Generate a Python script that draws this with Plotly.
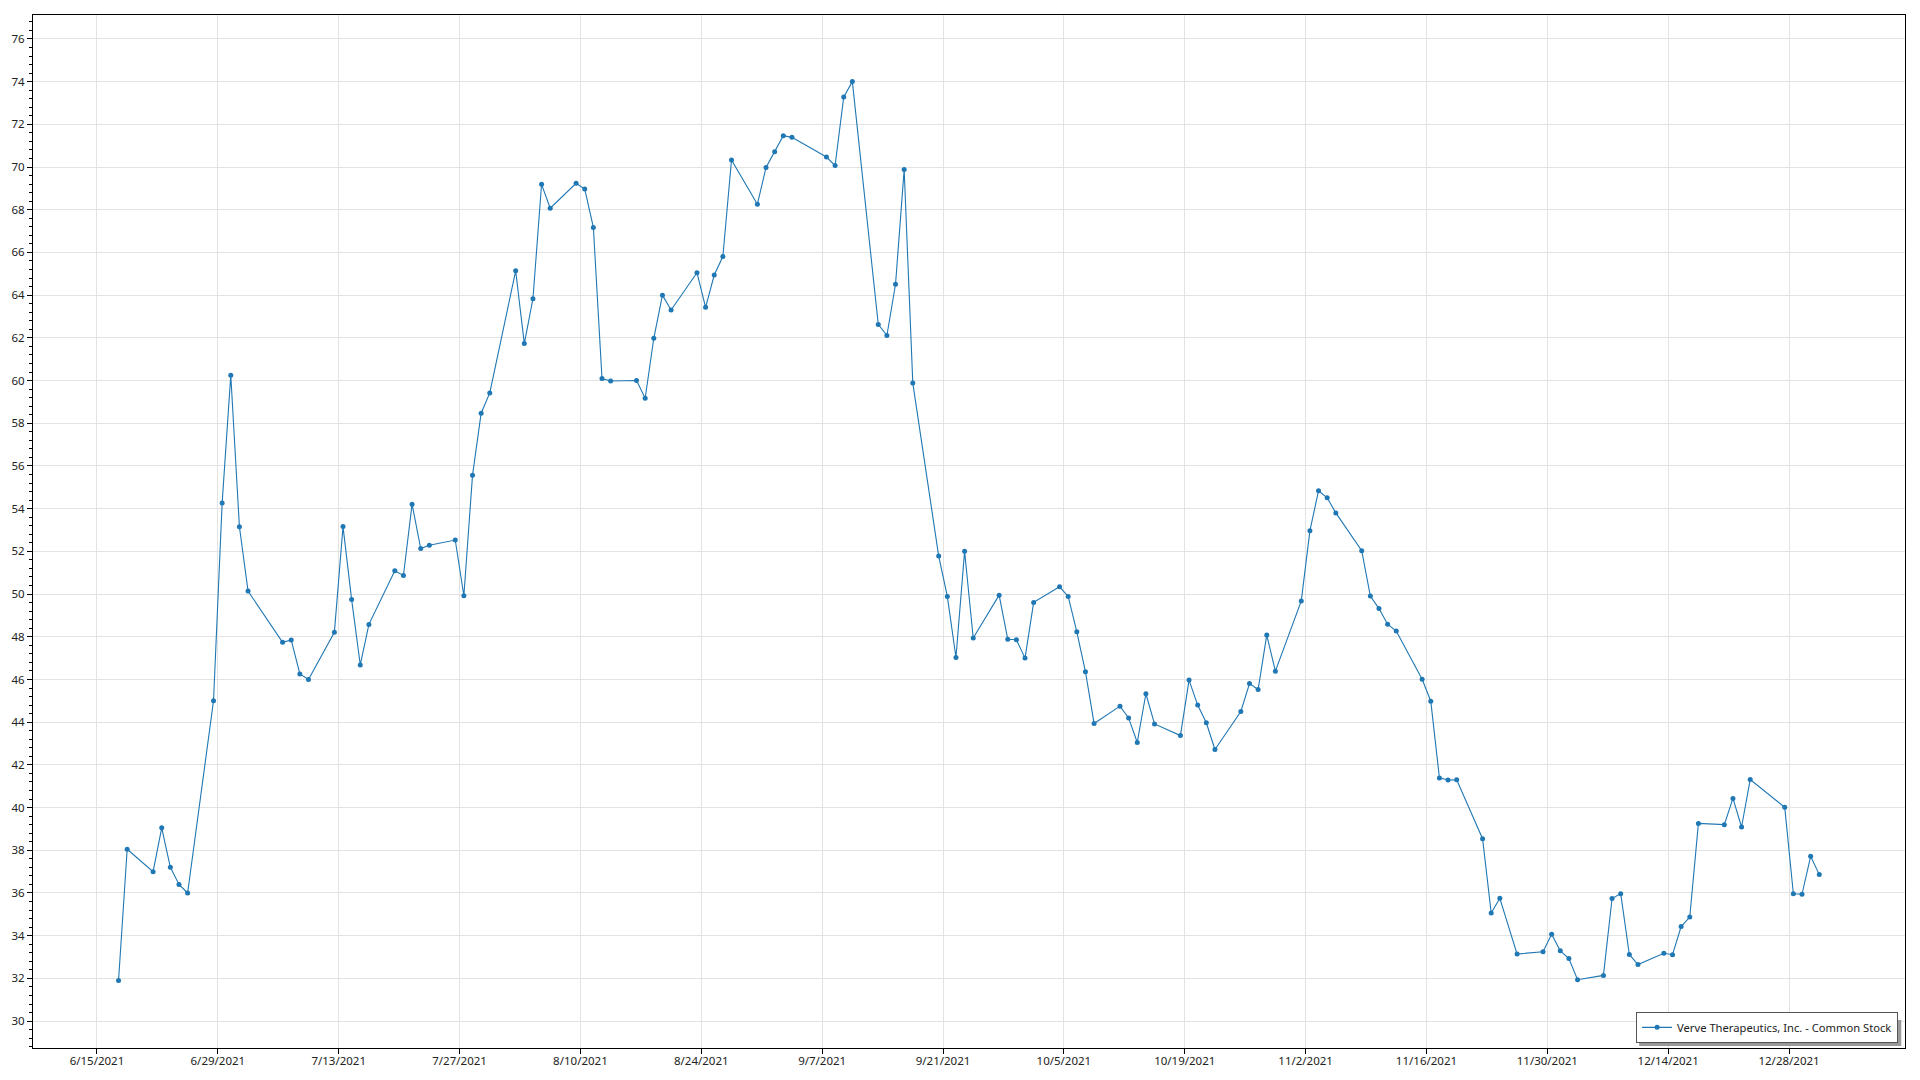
import plotly.graph_objects as go

# Trading days (closing prices) for Verve Therapeutics, Inc. - Common Stock
dates = [
    "2021-06-17", "2021-06-18", "2021-06-21", "2021-06-22", "2021-06-23", "2021-06-24", "2021-06-25",
    "2021-06-28", "2021-06-29", "2021-06-30",
    "2021-07-01", "2021-07-02", "2021-07-06", "2021-07-07", "2021-07-08", "2021-07-09",
    "2021-07-12", "2021-07-13", "2021-07-14", "2021-07-15", "2021-07-16",
    "2021-07-19", "2021-07-20", "2021-07-21", "2021-07-22", "2021-07-23",
    "2021-07-26", "2021-07-27", "2021-07-28", "2021-07-29", "2021-07-30",
    "2021-08-02", "2021-08-03", "2021-08-04", "2021-08-05", "2021-08-06",
    "2021-08-09", "2021-08-10", "2021-08-11", "2021-08-12", "2021-08-13",
    "2021-08-16", "2021-08-17", "2021-08-18", "2021-08-19", "2021-08-20",
    "2021-08-23", "2021-08-24", "2021-08-25", "2021-08-26", "2021-08-27",
    "2021-08-30", "2021-08-31",
    "2021-09-01", "2021-09-02", "2021-09-03", "2021-09-07", "2021-09-08", "2021-09-09", "2021-09-10",
    "2021-09-13", "2021-09-14", "2021-09-15", "2021-09-16", "2021-09-17",
    "2021-09-20", "2021-09-21", "2021-09-22", "2021-09-23", "2021-09-24",
    "2021-09-27", "2021-09-28", "2021-09-29", "2021-09-30",
    "2021-10-01", "2021-10-04", "2021-10-05", "2021-10-06", "2021-10-07", "2021-10-08",
    "2021-10-11", "2021-10-12", "2021-10-13", "2021-10-14", "2021-10-15",
    "2021-10-18", "2021-10-19", "2021-10-20", "2021-10-21", "2021-10-22",
    "2021-10-25", "2021-10-26", "2021-10-27", "2021-10-28", "2021-10-29",
    "2021-11-01", "2021-11-02", "2021-11-03", "2021-11-04", "2021-11-05",
    "2021-11-08", "2021-11-09", "2021-11-10", "2021-11-11", "2021-11-12",
    "2021-11-15", "2021-11-16", "2021-11-17", "2021-11-18", "2021-11-19",
    "2021-11-22", "2021-11-23", "2021-11-24", "2021-11-26",
    "2021-11-29", "2021-11-30",
    "2021-12-01", "2021-12-02", "2021-12-03", "2021-12-06", "2021-12-07", "2021-12-08", "2021-12-09",
    "2021-12-10", "2021-12-13", "2021-12-14", "2021-12-15", "2021-12-16", "2021-12-17",
    "2021-12-20", "2021-12-21", "2021-12-22", "2021-12-23",
    "2021-12-27", "2021-12-28", "2021-12-29", "2021-12-30", "2021-12-31",
]

prices = [
    31.90, 38.05, 37.00, 39.05, 37.20, 36.40, 36.00,
    45.00, 54.27, 60.25,
    53.15, 50.14, 47.74, 47.85, 46.26, 46.00,
    48.21, 53.16, 49.74, 46.68, 48.58,
    51.09, 50.87, 54.21, 52.13, 52.29,
    52.53, 49.92, 55.56, 58.47, 59.42,
    65.14, 61.73, 63.83, 69.19, 68.07,
    69.24, 68.97, 67.17, 60.09, 59.98,
    60.00, 59.17, 61.98, 64.00, 63.30,
    65.05, 63.43, 64.94, 65.81, 70.33,
    68.26, 69.98,
    70.71, 71.47, 71.39, 70.47, 70.07, 73.28, 74.00,
    62.63, 62.11, 64.51, 69.88, 59.88,
    51.78, 49.89, 47.03, 52.00, 47.94,
    49.95, 47.88, 47.86, 47.00,
    49.61, 50.34, 49.89, 48.23, 46.36, 43.94,
    44.75, 44.20, 43.05, 45.33, 43.92,
    43.37, 45.97, 44.80, 43.97, 42.72,
    44.50, 45.81, 45.53, 48.08, 46.39,
    49.68, 52.97, 54.84, 54.51, 53.80,
    52.03, 49.91, 49.32, 48.59, 48.27,
    46.01, 44.98, 41.39, 41.29, 41.30,
    38.54, 35.06, 35.75, 33.14,
    33.25, 34.07,
    33.29, 32.93, 31.94, 32.14, 35.74, 35.97, 33.12,
    32.65, 33.18, 33.11, 34.43, 34.87, 39.26,
    39.20, 40.43, 39.09, 41.31,
    40.01, 35.96, 35.94, 37.72, 36.86,
]

series_name = "Verve Therapeutics, Inc. - Common Stock"

x_tick_dates = [
    "2021-06-15", "2021-06-29", "2021-07-13", "2021-07-27", "2021-08-10", "2021-08-24",
    "2021-09-07", "2021-09-21", "2021-10-05", "2021-10-19", "2021-11-02", "2021-11-16",
    "2021-11-30", "2021-12-14", "2021-12-28",
]
x_tick_labels = [
    "6/15/2021", "6/29/2021", "7/13/2021", "7/27/2021", "8/10/2021", "8/24/2021",
    "9/7/2021", "9/21/2021", "10/5/2021", "10/19/2021", "11/2/2021", "11/16/2021",
    "11/30/2021", "12/14/2021", "12/28/2021",
]

# points are drawn at mid-day of each trading date
x_vals = [d + " 12:00" for d in dates]

LINE_BLUE = "#1f77b4"
FONT = "Noto Sans, Open Sans, sans-serif"
TEXT = "#222222"

fig = go.Figure()
fig.add_trace(go.Scatter(
    x=x_vals, y=prices, mode="lines+markers", name=series_name,
    line=dict(color=LINE_BLUE, width=1.1),
    marker=dict(color=LINE_BLUE, size=5),
    showlegend=True,
))

# legend drop shadow (paper coordinates, offset a few pixels right/down from the legend box)
fig.add_shape(
    type="rect", xref="paper", yref="paper",
    x0=0.8580, x1=0.9980, y0=0.0020, y1=0.0270,
    fillcolor="#9a9a9a", line=dict(width=0), layer="above",
)

fig.update_layout(
    width=1920, height=1080,
    margin=dict(l=32, r=15, t=15, b=21, pad=0),
    paper_bgcolor="white", plot_bgcolor="white",
    font=dict(family=FONT, size=12, color=TEXT),
    showlegend=True,
    legend=dict(
        x=0.9963, y=0.0050, xanchor="right", yanchor="bottom",
        bgcolor="white", bordercolor="#555555", borderwidth=1,
        font=dict(family=FONT, size=11.2, color=TEXT),
        itemwidth=30,
    ),
    xaxis=dict(
        type="date",
        range=["2021-06-07 14:10", "2022-01-10 10:20"],
        tickvals=x_tick_dates, ticktext=x_tick_labels,
        showgrid=True, gridcolor="#e3e3e3", gridwidth=1,
        showline=True, linecolor="black", linewidth=1, mirror=True,
        ticks="outside", ticklen=5, tickcolor="black", tickwidth=1,
        tickfont=dict(family=FONT, size=11.5, color=TEXT),
        ticklabelstandoff=-3,
        zeroline=False,
    ),
    yaxis=dict(
        range=[28.74, 77.12],
        tick0=30, dtick=2,
        showgrid=True, gridcolor="#e3e3e3", gridwidth=1,
        showline=True, linecolor="black", linewidth=1, mirror=True,
        ticks="outside", ticklen=5, tickcolor="black", tickwidth=1,
        tickfont=dict(family=FONT, size=11.5, color=TEXT),
        zeroline=False,
        minor=dict(dtick=0.4, tick0=30, ticks="outside", ticklen=3, tickcolor="black", showgrid=False),
    ),
)

fig.write_html(
    "out.html",
    config={"displayModeBar": False},
    post_script="document.body.style.margin='0';document.body.style.overflow='hidden';",
)
